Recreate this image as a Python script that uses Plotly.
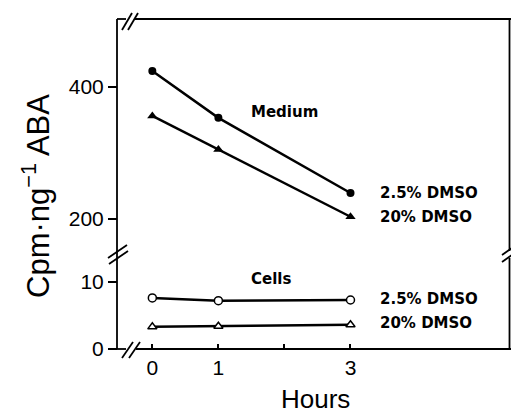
import plotly.graph_objects as go

hours = [0, 1, 3]
medium_25 = [424, 353, 239]
medium_20 = [356, 305, 203]
cells_25 = [7.6, 7.2, 7.3]
cells_20 = [3.3, 3.4, 3.6]

x_tickvals = [0, 1, 3]
x_ticktext = ["0", "1", "3"]
x_minorvals = [2]
upper_tickvals = [200, 400]
lower_tickvals = [0, 10]

W, H = 511, 413
# plot area in page pixels: x 118..509, y 19..349
L, R, T, B = 118, 2, 19, 413 - 349
PW, PH = W - L - R, H - T - B


def px(xp):
    return (xp - L) / PW


def py(yp):
    return (H - B - yp) / PH


fig = go.Figure()
line_w = 2.5
fig.add_trace(go.Scatter(x=hours, y=medium_25, yaxis="y2", mode="lines+markers",
                         line=dict(color="black", width=line_w),
                         marker=dict(symbol="circle", size=8, color="black")))
fig.add_trace(go.Scatter(x=hours, y=medium_20, yaxis="y2", mode="lines+markers",
                         line=dict(color="black", width=line_w),
                         marker=dict(symbol="triangle-up", size=9, color="black")))
fig.add_trace(go.Scatter(x=hours, y=cells_25, yaxis="y", mode="lines+markers",
                         line=dict(color="black", width=line_w),
                         marker=dict(symbol="circle", size=8, color="white",
                                     line=dict(color="black", width=1.5))))
fig.add_trace(go.Scatter(x=hours, y=cells_20, yaxis="y", mode="lines+markers",
                         line=dict(color="black", width=line_w),
                         marker=dict(symbol="triangle-up", size=8, color="white",
                                     line=dict(color="black", width=1.5))))

split = py(253)
tickfont = dict(family="Liberation Sans", size=21, color="black")

fig.update_layout(
    width=W, height=H,
    margin=dict(l=L, r=R, t=T, b=B, pad=0),
    paper_bgcolor="white", plot_bgcolor="white",
    showlegend=False,
    xaxis=dict(range=[-0.52, 5.40], tickvals=x_tickvals, ticktext=x_ticktext,
               ticks="inside", ticklen=5, tickwidth=1.5, tickcolor="black",
               ticklabelstandoff=4,
               minor=dict(tickvals=x_minorvals, ticks="inside", ticklen=5,
                          tickwidth=1.5, tickcolor="black", showgrid=False),
               showgrid=False, zeroline=False, showline=False,
               tickfont=tickfont, anchor="y"),
    yaxis=dict(domain=[0, split], range=[0, 14.3], tickvals=lower_tickvals,
               ticks="outside", ticklen=9, tickwidth=1.5, tickcolor="black",
               showgrid=False, zeroline=False, showline=False,
               tickfont=tickfont, anchor="x"),
    yaxis2=dict(domain=[split, 1], range=[148, 503], tickvals=upper_tickvals,
                ticks="outside", ticklen=9, tickwidth=1.5, tickcolor="black",
                showgrid=False, zeroline=False, showline=False,
                tickfont=tickfont, anchor="x"),
)

lw = 1.8
segs = [
    # left axis
    ((117, 19), (117, 349)),
    # top line (with break gap)
    ((117, 19), (126, 19)), ((135, 19), (511, 19)),
    # bottom axis (with break gap)
    ((117, 349), (126, 349)), ((136, 349), (511, 349)),
    # right side (with break gap)
    ((509.5, 19), (509.5, 251)), ((509.5, 258), (509.5, 349)),
    # break marks: top
    ((122, 30), (132, 13)), ((128, 30), (138, 13)),
    # bottom
    ((122, 358), (133, 342)), ((129, 358), (140, 342)),
    # left
    ((108, 258), (127, 245)), ((109, 264), (128, 251)),
    # right
    ((502, 255), (512, 248)), ((502, 262), (512, 255)),
]
for (x0, y0), (x1, y1) in segs:
    fig.add_shape(type="line", xref="paper", yref="paper",
                  x0=px(x0), y0=py(y0), x1=px(x1), y1=py(y1),
                  line=dict(color="black", width=lw))

labfont = dict(family="DejaVu Sans", size=15, color="black", weight="bold")
anns = [
    ("Medium", 2.0, 362, "y2", "center"),
    ("Cells", 1.8, 10.4, "y", "center"),
    ("2.5% DMSO", 3.42, 239, "y2", "left"),
    ("20% DMSO", 3.42, 202, "y2", "left"),
    ("2.5% DMSO", 3.42, 7.5, "y", "left"),
    ("20% DMSO", 3.42, 3.9, "y", "left"),
]
for text, x, y, yref, xa in anns:
    fig.add_annotation(text=text, x=x, y=y, xref="x", yref=yref, xanchor=xa,
                       yanchor="middle", showarrow=False, font=labfont)

fig.add_annotation(text="Hours", x=px(315), y=py(382), xref="paper", yref="paper",
                   xanchor="center", yanchor="top", showarrow=False,
                   font=dict(family="Liberation Sans", size=26, color="black"))
fig.add_annotation(text="Cpm·ng<sup>−1</sup> ABA", x=px(36), y=py(196),
                   xref="paper", yref="paper", xanchor="center", yanchor="middle",
                   textangle=-90, showarrow=False,
                   font=dict(family="Liberation Sans", size=31, color="black"))

fig.write_html("out.html",
               config={"displayModeBar": False},
               post_script="document.body.style.margin='0';"
                           "document.body.style.overflow='hidden';")
